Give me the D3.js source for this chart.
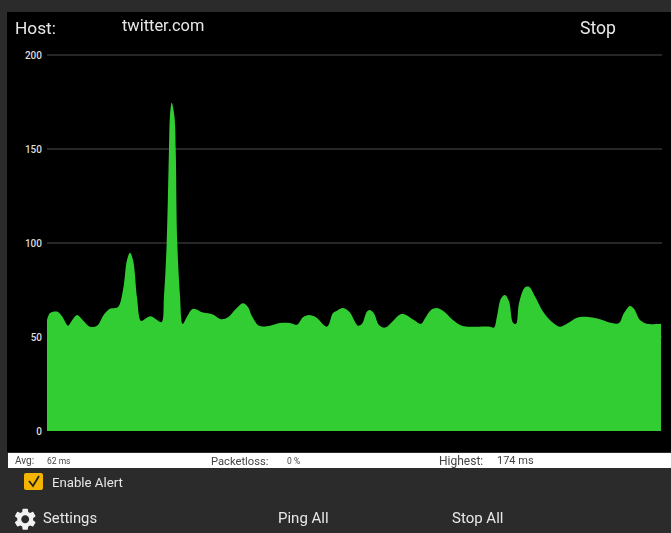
<!DOCTYPE html>
<html>
<head>
<meta charset="utf-8">
<script src="https://cdn.jsdelivr.net/npm/d3@7"></script>
<style>
    html, body { margin: 0; padding: 0; background: #2b2b2b; overflow: hidden; }
    svg { display: block; font-family: Roboto, sans-serif; filter: blur(0.6px); }
</style>
</head>
<body>
<svg id="chart" width="671" height="533"></svg>
<script>
// sample clock of the ping trace, one step is one screen pixel of the original
const pingTimes = [0, 3, 10, 15, 21, 24, 30, 35, 43, 50, 57, 63, 71, 76, 80, 83, 86, 90, 94, 99, 104, 111, 114.7,
    117, 119.7, 122, 123, 124.7, 127.3, 128.7, 130.3, 133, 135.7, 140, 146, 156, 166, 174, 181, 189, 196, 201, 205, 212,
    223, 233, 243, 250, 256, 262, 269, 280, 286, 290, 296, 303, 308, 311, 315, 320, 323, 327, 332, 338, 345, 353,
    358, 367, 374, 378, 384, 390, 397, 405, 415, 428, 443, 447, 450, 454, 458, 462, 466, 469, 472, 478, 482, 488,
    496, 505, 513, 521, 530, 538, 553, 565, 572, 577, 583, 587, 593, 600, 614];
const pingValues = [59, 62.8, 63.5, 61, 56, 58, 61.7, 59.5, 55.5, 56, 62, 65, 66, 75, 91, 94.8, 91, 71, 58.5, 60, 61, 58.7, 58,
    72, 100, 150, 168, 174.6, 168, 150, 100, 72, 57, 60.8, 65, 63, 62, 59.5, 60.5, 65, 68, 66, 61, 56,
    56, 57.4, 57.4, 56.5, 60.5, 61.7, 60.5, 55.5, 62.7, 64, 65.4, 63, 58, 56, 57, 63.5, 64.4, 62.5, 56.4, 55, 58, 62,
    62, 59, 57, 60, 64.4, 65.4, 63.5, 59.5, 56, 55.5, 55.5, 55, 61, 70.5, 72.4, 69, 57.6, 57, 68, 76.5, 76.7, 71.5,
    63.5, 58, 55.5, 57.4, 60.3, 60.8, 59.5, 57.4, 57.4, 62.7, 66.5, 65, 59, 57, 57];
const yTicks = [0, 50, 100, 150, 200];

const hostName = 'twitter.com';
const avgMs = 62;
const packetLoss = 0;
const highestMs = 174;

const colors = { page: '#2b2b2b', plot: '#000', grid: '#333', area: '#32cd32', tick: '#ddd', text: '#e8e8e8', note: '#444', check: '#f5b400' };

const svg = d3.select('#chart');

svg.append('rect').attr('x', 7).attr('y', 12).attr('width', 664).attr('height', 440).attr('fill', colors.plot);
svg.append('rect').attr('x', 8).attr('y', 453).attr('width', 663).attr('height', 15).attr('fill', '#fff');

const x = d3.scaleLinear().domain([0, d3.max(pingTimes)]).range([47, 661]);
const y = d3.scaleLinear().domain([0, 200]).range([431, 55]);

// grid + labels
const yAxis = svg.append('g')
    .attr('transform', 'translate(47,0)')
    .call(d3.axisLeft(y).tickValues(yTicks).tickSize(0).tickPadding(5));
yAxis.select('.domain').remove();
yAxis.selectAll('text').attr('fill', colors.tick).style('font-size', '10px').style('font-family', 'Roboto, sans-serif').style('font-weight', 500);

svg.append('g').selectAll('line')
    .data(yTicks.slice(1))
    .enter()
    .append('line')
    .attr('x1', 47)
    .attr('x2', 662)
    .attr('y1', d => y(d))
    .attr('y2', d => y(d))
    .attr('stroke', colors.grid)
    .attr('stroke-width', 1.5);

const area = d3.area()
    .x((d, i) => x(pingTimes[i]))
    .y0(y(0))
    .y1(d => y(d))
    .curve(d3.curveCatmullRom.alpha(0.5));

svg.append('path')
    .datum(pingValues)
    .attr('d', area)
    .attr('fill', colors.area);

const label = (text, px, py, size, fill) => svg.append('text')
    .attr('x', px)
    .attr('y', py)
    .attr('fill', fill)
    .style('font-size', size + 'px')
    .text(text);

// header
label('Host:', 15, 34, 17.3, colors.text);
label(hostName, 122, 31, 16.4, colors.text);
label('Stop', 580, 34, 17.6, colors.text);

// stats strip
label('Avg:', 15, 464, 10, colors.note);
label(avgMs + ' ms', 47, 464, 8.5, colors.note);
label('Packetloss:', 211, 465, 11.2, colors.note);
label(packetLoss + ' %', 287, 464, 8.5, colors.note);
label('Highest:', 439, 465, 12, colors.note);
label(highestMs + ' ms', 497, 464, 11, colors.note);

// alert checkbox
svg.append('rect').attr('x', 24).attr('y', 473).attr('width', 19).attr('height', 17).attr('rx', 2).attr('fill', colors.check);
svg.append('path')
    .attr('d', d3.line()([[29, 481], [33, 486], [39, 476]]))
    .attr('fill', 'none')
    .attr('stroke', '#222')
    .attr('stroke-width', 1.8);
label('Enable Alert', 52, 487, 13.2, colors.text);

// footer
svg.append('path')
    .attr('transform', 'translate(12,506) scale(1.1)')
    .attr('fill', '#f2f2f2')
    .attr('d', 'M19.14 12.94c.04-.3.06-.61.06-.94 0-.32-.02-.64-.07-.94l2.03-1.58a.49.49 0 0 0 .12-.61l-1.92-3.32a.488.488 0 0 0-.59-.22l-2.39.96c-.5-.38-1.03-.7-1.62-.94l-.36-2.54a.484.484 0 0 0-.48-.41h-3.84c-.24 0-.43.17-.47.41l-.36 2.54c-.59.24-1.13.57-1.62.94l-2.39-.96c-.22-.08-.47 0-.59.22L2.74 8.87c-.12.21-.08.47.12.61l2.03 1.58c-.05.3-.09.63-.09.94s.02.64.07.94l-2.03 1.58a.49.49 0 0 0-.12.61l1.92 3.32c.12.22.37.29.59.22l2.39-.96c.5.38 1.03.7 1.62.94l.36 2.54c.05.24.24.41.48.41h3.84c.24 0 .44-.17.47-.41l.36-2.54c.59-.24 1.13-.56 1.62-.94l2.39.96c.22.08.47 0 .59-.22l1.92-3.32c.12-.22.07-.47-.12-.61l-2.01-1.58zM12 15.6c-1.98 0-3.6-1.62-3.6-3.6s1.62-3.6 3.6-3.6 3.6 1.62 3.6 3.6-1.62 3.6-3.6 3.6z');
label('Settings', 43, 523, 14.8, colors.text);
label('Ping All', 278, 523, 15, colors.text);
label('Stop All', 452, 523, 15, colors.text);
</script>
</body>
</html>
